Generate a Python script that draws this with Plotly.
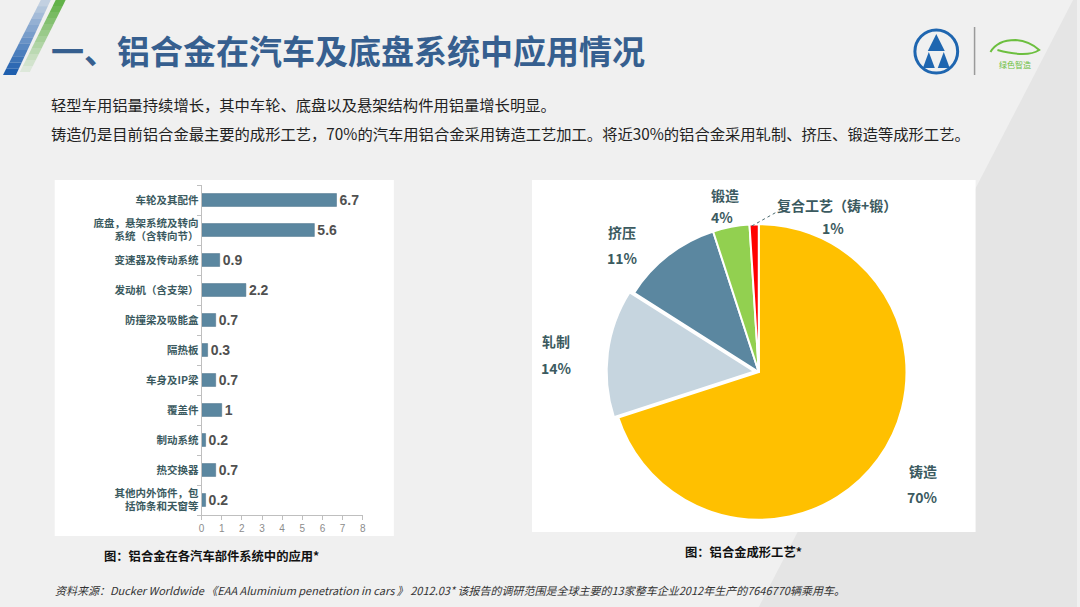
import plotly.graph_objects as go

# bar chart: aluminium use per component system
parts = [
    "车轮及其配件",
    "底盘，悬架系统及转向<br>系统（含转向节）",
    "变速器及传动系统",
    "发动机（含支架）",
    "防撞梁及吸能盒",
    "隔热板",
    "车身及IP梁",
    "覆盖件",
    "制动系统",
    "热交换器",
    "其他内外饰件，包<br>括饰条和天窗等",
]
part_values = [6.7, 5.6, 0.9, 2.2, 0.7, 0.3, 0.7, 1, 0.2, 0.7, 0.2]

# pie chart: forming processes
processes = ["铸造", "轧制", "挤压", "锻造", "复合工艺（铸+锻）"]
process_share = [70, 14, 11, 4, 1]
process_colors = ["#ffc000", "#c6d5df", "#5b87a0", "#92d050", "#ff0000"]

W, H = 1080, 607


def px(x):
    return x / W


def py(y):
    return 1 - y / H


fig = go.Figure()

fig.add_trace(go.Bar(
    x=part_values, y=parts, orientation="h",
    marker=dict(color="#5b87a0", line=dict(color="#4a7188", width=0.5)),
    texttemplate="<b>%{x}</b>", textposition="outside", constraintext="none",
    textfont=dict(family="Liberation Sans, Arial", size=14, color="#505050"),
    cliponaxis=False, xaxis="x", yaxis="y", showlegend=False,
))

fig.add_trace(go.Pie(
    labels=processes, values=process_share, sort=False,
    direction="clockwise", rotation=0,
    marker=dict(colors=process_colors, line=dict(color="white", width=2)),
    pull=[0, 0.03, 0, 0, 0],
    textinfo="none", hoverinfo="label+percent", showlegend=False,
    domain=dict(x=[px(607), px(913)], y=[py(525), py(219)]),
))

shapes = [
    # darker diagonal band lower right
    dict(type="path", xref="paper", yref="paper", layer="below",
         path=f"M {px(760)} 0 L 1 0 L 1 1 L {px(1076)} 1 Z",
         fillcolor="#e5e5e5", line=dict(width=0)),
    # white panels
    dict(type="rect", xref="paper", yref="paper", layer="below",
         x0=px(52), x1=px(393), y0=py(536), y1=py(180),
         fillcolor="white", line=dict(width=0)),
    dict(type="rect", xref="paper", yref="paper", layer="below",
         x0=px(532), x1=px(978), y0=py(532), y1=py(180),
         fillcolor="white", line=dict(width=0)),
    # leader line of the 1% label
    dict(type="line", xref="paper", yref="paper",
         x0=px(753), x1=px(778), y0=py(226), y1=py(212),
         line=dict(color="#4a6a70", width=1, dash="dot")),
    # divider next to logo
    dict(type="line", xref="paper", yref="paper",
         x0=px(977), x1=px(977), y0=py(27), y1=py(75),
         line=dict(color="#9a9a9a", width=1.5)),
    # logo circle
    dict(type="circle", xref="paper", yref="paper",
         x0=px(917), x1=px(960), y0=py(73), y1=py(30),
         line=dict(color="#1f66b0", width=3)),
    dict(type="path", xref="paper", yref="paper",
         path=f"M {px(938.5)} {py(34)} L {px(930)} {py(51)} L {px(947)} {py(51)} Z",
         fillcolor="#1f66b0", line=dict(width=0)),
    dict(type="path", xref="paper", yref="paper",
         path=f"M {px(931)} {py(52)} L {px(925)} {py(68)} L {px(937)} {py(68)} Z",
         fillcolor="#1f66b0", line=dict(width=0)),
    dict(type="path", xref="paper", yref="paper",
         path=f"M {px(946)} {py(52)} L {px(940)} {py(68)} L {px(952)} {py(68)} Z",
         fillcolor="#1f66b0", line=dict(width=0)),
    # green car outline
    dict(type="path", xref="paper", yref="paper",
         path=f"M {px(993)} {py(52)} Q {px(1000)} {py(40)} {px(1018)} {py(40)} "
              f"Q {px(1032)} {py(41)} {px(1042)} {py(50)} Q {px(1030)} {py(58)} {px(1000)} {py(50)}",
         line=dict(color="#6cbf3f", width=2)),
]

# decorative stripes at top left, blue fades upwards, green fades downwards
n = 12
for i in range(n):
    t0, t1 = i / n, (i + 1) / n
    yb, yt = 75 - 75 * t0, 75 - 75 * t1
    shapes.append(dict(type="path", xref="paper", yref="paper",
                       path=f"M {px(0 + 38 * t0)} {py(yb)} L {px(13 + 35 * t0)} {py(yb)} "
                            f"L {px(13 + 35 * t1)} {py(yt)} L {px(0 + 38 * t1)} {py(yt)} Z",
                       fillcolor="#1f5fae", opacity=1 - 0.85 * t0, line=dict(width=0)))
    yb, yt = 72 - 72 * t0, 72 - 72 * t1
    shapes.append(dict(type="path", xref="paper", yref="paper",
                       path=f"M {px(17 + 36 * t0)} {py(yb)} L {px(27 + 36 * t0)} {py(yb)} "
                            f"L {px(27 + 36 * t1)} {py(yt)} L {px(17 + 36 * t1)} {py(yt)} Z",
                       fillcolor="#5aae3f", opacity=0.05 + 0.9 * t1, line=dict(width=0)))

CJK = "Noto Sans CJK SC"
label_color = "#3b5a60"


def note(x, y, text, size, color="#222222", bold=False, xanchor="left", italic=False):
    if bold:
        text = f"<b>{text}</b>"
    if italic:
        text = f"<i>{text}</i>"
    return dict(xref="paper", yref="paper", x=px(x), y=py(y), text=text,
                showarrow=False, xanchor=xanchor, yanchor="middle",
                font=dict(family=CJK, size=size, color=color), align="left")


annotations = [
    note(46, 50, "一、铝合金在汽车及底盘系统中应用情况", 33, "#365f8f", bold=True),
    note(46, 104, "轻型车用铝量持续增长，其中车轮、底盘以及悬架结构件用铝量增长明显。", 15.3),
    note(46, 133, "铸造仍是目前铝合金最主要的成形工艺，70%的汽车用铝合金采用铸造工艺加工。将近30%的铝合金采用轧制、挤压、锻造等成形工艺。", 15.3),
    note(210, 556, "图：铝合金在各汽车部件系统中的应用*", 12.3, "#111111", bold=True, xanchor="center"),
    note(745, 552, "图：铝合金成形工艺*", 12.3, "#111111", bold=True, xanchor="center"),
    note(50, 590, "资料来源：Ducker Worldwide 《EAA Aluminium penetration in cars 》 2012.03* 该报告的调研范围是全球主要的13家整车企业2012年生产的7646770辆乘用车。",
         11, "#333333", italic=True),
    note(1018, 65, "绿色智造", 8, "#6cbf3f", xanchor="center"),
    # pie labels
    note(925, 471, "铸造", 14, label_color, bold=True, xanchor="center"),
    note(925, 497, "70%", 14, label_color, bold=True, xanchor="center"),
    note(556, 341, "轧制", 14, label_color, bold=True, xanchor="center"),
    note(557, 368, "14%", 14, label_color, bold=True, xanchor="center"),
    note(622, 232, "挤压", 14, label_color, bold=True, xanchor="center"),
    note(623, 258, "11%", 14, label_color, bold=True, xanchor="center"),
    note(726, 195, "锻造", 14, label_color, bold=True, xanchor="center"),
    note(723, 217, "4%", 14, label_color, bold=True, xanchor="center"),
    note(839, 205, "复合工艺（铸+锻）", 14, label_color, bold=True, xanchor="center"),
    note(835, 228, "1%", 14, label_color, bold=True, xanchor="center"),
]

fig.update_layout(
    width=W, height=H,
    margin=dict(l=0, r=0, t=0, b=0),
    paper_bgcolor="#f0f0f0",
    plot_bgcolor="rgba(0,0,0,0)",
    shapes=shapes,
    annotations=annotations,
    bargap=0.57,
    xaxis=dict(domain=[px(199.7), px(361.7)], range=[0, 8], dtick=1,
               showgrid=False, zeroline=False, showline=True, linecolor="#bfbfbf",
               ticks="outside", ticklen=4, tickcolor="#bfbfbf",
               tickfont=dict(family="Liberation Sans, Arial", size=10, color="#8c8c8c"),
               anchor="y", fixedrange=True),
    yaxis=dict(domain=[py(515), py(185)], autorange="reversed",
               showgrid=False, showline=True, linecolor="#bfbfbf",
               ticks="outside", ticklen=4, tickcolor="#bfbfbf", tickson="boundaries",
               tickvals=parts, ticktext=[f"<b>{p}</b>" for p in parts],
               tickfont=dict(family=CJK, size=10.5, color=label_color),
               anchor="x", fixedrange=True),
)

fig.write_html("out.html", config={"displayModeBar": False},
               post_script="document.body.style.margin='0';")
